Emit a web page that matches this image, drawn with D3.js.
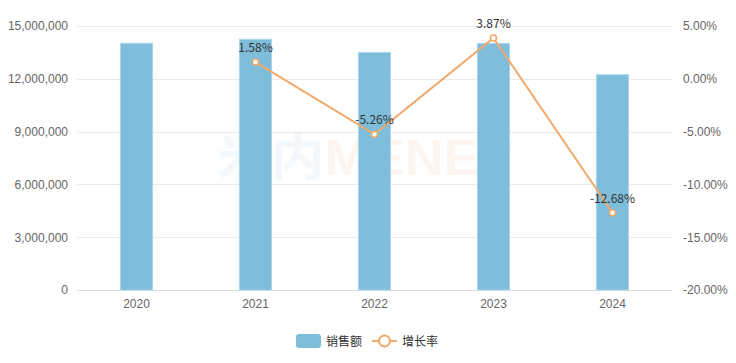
<!DOCTYPE html>
<html>
<head>
<meta charset="utf-8">
<script src="https://cdn.jsdelivr.net/npm/d3@7"></script>
<style>
  body { margin: 0; background: #fff; }
  svg { font-family: "Microsoft YaHei", "Noto Sans CJK SC", "Noto Sans", sans-serif; }
</style>
</head>
<body>
<svg width="736" height="363"></svg>
<script>
// Data
let years = ["2020", "2021", "2022", "2023", "2024"];
let sales = [14020000, 14240000, 13490000, 14010000, 12230000];
let growth = [null, 1.58, -5.26, 3.87, -12.68];
let leftTicks = [0, 3000000, 6000000, 9000000, 12000000, 15000000];
let rightTicks = [-20, -15, -10, -5, 0, 5];

let svg = d3.select("svg");
let margin = { left: 77, right: 64, top: 26, bottom: 73 };
let width = 736 - margin.left - margin.right;
let height = 363 - margin.top - margin.bottom;

let barColor = "#7fbedb";
let lineColor = "#f0a96b";

let x = d3.scaleBand().domain(years).range([margin.left, margin.left + width]);
let yLeft = d3.scaleLinear().domain([0, 15000000]).range([margin.top + height, margin.top]);
let yRight = d3.scaleLinear().domain([-20, 5]).range([margin.top + height, margin.top]);

// Grid lines
svg.append("g")
    .selectAll("line")
    .data(leftTicks)
    .join("line")
    .attr("x1", margin.left)
    .attr("x2", margin.left + width)
    .attr("y1", d => Math.round(yLeft(d)) + 0.5)
    .attr("y2", d => Math.round(yLeft(d)) + 0.5)
    .attr("stroke", d => d == 0 ? "#dcdcdc" : "#ebebeb");

// Watermark
let wm = svg.append("text")
    .attr("x", 217)
    .attr("y", 175)
    .attr("font-size", 50)
    .attr("font-weight", "bold")
    .attr("font-family", "Arial, 'Liberation Sans', 'Noto Sans CJK SC', sans-serif")
    .attr("textLength", 295)
    .attr("lengthAdjust", "spacingAndGlyphs");
wm.append("tspan").text("米内").attr("fill", "#7fbedb").attr("fill-opacity", 0.1);
wm.append("tspan").text("MENET").attr("fill", "#f0a96b").attr("fill-opacity", 0.1);

// Bars
let barW = x.bandwidth() * 0.27;
svg.append("g")
    .selectAll("rect")
    .data(years)
    .join("rect")
    .attr("x", d => x(d) + (x.bandwidth() - barW) / 2)
    .attr("y", (d, i) => yLeft(sales[i]))
    .attr("width", barW)
    .attr("height", (d, i) => yLeft(0) - yLeft(sales[i]))
    .attr("fill", barColor)
    .attr("stroke", "#a9d5ea")
    .attr("stroke-width", 1);

// Left axis
let leftAxis = svg.append("g")
    .attr("transform", `translate(${margin.left},0)`)
    .call(d3.axisLeft(yLeft).tickValues(leftTicks).tickSize(0).tickPadding(9).tickFormat(d3.format(",")));
leftAxis.select(".domain").remove();
leftAxis.selectAll("text").attr("fill", "#666").attr("font-size", 12);

// Right axis
let rightAxis = svg.append("g")
    .attr("transform", `translate(${margin.left + width},0)`)
    .call(d3.axisRight(yRight).tickValues(rightTicks).tickSize(0).tickPadding(11).tickFormat(d => d.toFixed(2) + "%"));
rightAxis.select(".domain").remove();
rightAxis.selectAll("text").attr("fill", "#666").attr("font-size", 12);

// Bottom axis
let bottomAxis = svg.append("g")
    .attr("transform", `translate(0,${margin.top + height})`)
    .call(d3.axisBottom(x).tickSize(0).tickPadding(9));
bottomAxis.select(".domain").remove();
bottomAxis.selectAll("text").attr("fill", "#666").attr("font-size", 12);

// Growth line
let points = years.map((d, i) => ({ year: d, value: growth[i] })).filter(d => d.value != null);
let line = d3.line()
    .x(d => x(d.year) + x.bandwidth() / 2)
    .y(d => yRight(d.value));

svg.append("path")
    .datum(points)
    .attr("d", line)
    .attr("fill", "none")
    .attr("stroke", lineColor)
    .attr("stroke-width", 2);

svg.append("g")
    .selectAll("circle")
    .data(points)
    .join("circle")
    .attr("cx", d => x(d.year) + x.bandwidth() / 2)
    .attr("cy", d => yRight(d.value))
    .attr("r", 3)
    .attr("fill", "#fff")
    .attr("stroke", lineColor)
    .attr("stroke-width", 1.5);

svg.append("g")
    .selectAll("text")
    .data(points)
    .join("text")
    .attr("x", d => x(d.year) + x.bandwidth() / 2)
    .attr("y", d => yRight(d.value) - 10)
    .attr("text-anchor", "middle")
    .attr("font-size", 12)
    .attr("fill", "#333")
    .text(d => d.value.toFixed(2) + "%");

// Legend
let legend = svg.append("g").attr("transform", "translate(296,341)");
legend.append("rect")
    .attr("x", 0).attr("y", -7)
    .attr("width", 25).attr("height", 14)
    .attr("rx", 3)
    .attr("fill", barColor);
legend.append("text")
    .attr("x", 30).attr("y", 4.5)
    .attr("font-size", 12).attr("fill", "#333")
    .text("销售额");
legend.append("line")
    .attr("x1", 76).attr("x2", 101)
    .attr("y1", 0).attr("y2", 0)
    .attr("stroke", lineColor).attr("stroke-width", 2);
legend.append("circle")
    .attr("cx", 88.5).attr("cy", 0).attr("r", 5.5)
    .attr("fill", "#fff").attr("stroke", lineColor).attr("stroke-width", 2);
legend.append("text")
    .attr("x", 106).attr("y", 4.5)
    .attr("font-size", 12).attr("fill", "#333")
    .text("增长率");
</script>
</body>
</html>
